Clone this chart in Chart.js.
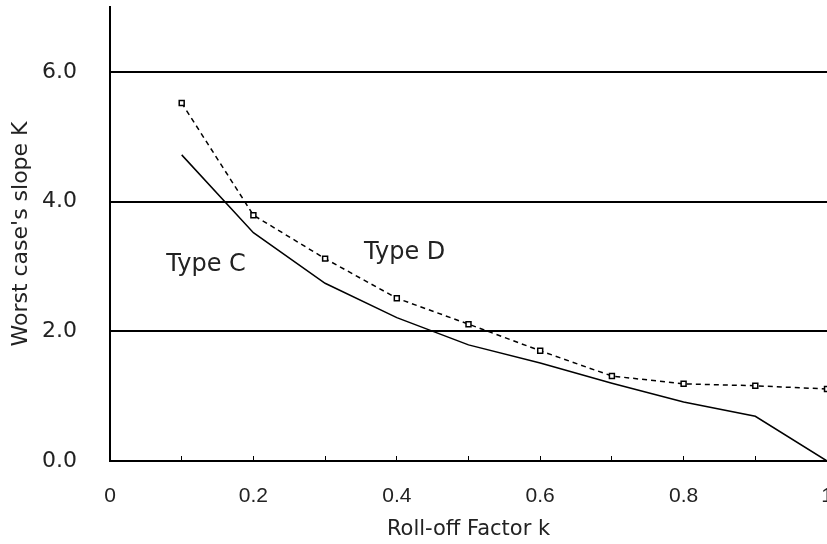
<!DOCTYPE html>
<html>
<head>
<meta charset="utf-8">
<script src="https://cdn.jsdelivr.net/npm/chart.js@4.4.0/dist/chart.umd.min.js"></script>
<style>
  html, body { margin: 0; padding: 0; background: #fff; }
  #wrap { width: 827px; height: 544px; position: relative; }
</style>
</head>
<body>
<div id="wrap"><canvas id="chart"></canvas></div>
<script>
// roll-off factor k
const kValues = [0.1, 0.2, 0.3, 0.4, 0.5, 0.6, 0.7, 0.8, 0.9, 1.0];
// worst case slope K
const typeC = [4.72, 3.52, 2.74, 2.21, 1.79, 1.51, 1.20, 0.91, 0.69, 0.0];
const typeD = [5.52, 3.79, 3.12, 2.51, 2.11, 1.70, 1.31, 1.19, 1.16, 1.11];

const seriesLabels = ['Type C', 'Type D'];
// where the in-plot labels sit, in data units
const labelX = [0.134, 0.411];
const labelY = [3.02, 3.21];

const yTicks = [0, 2, 4, 6];

const toPoints = (ys) => kValues.map((k, i) => ({ x: k, y: ys[i] }));

const seriesLabelPlugin = {
  id: 'seriesLabels',
  afterDatasetsDraw(chart) {
    const { ctx, scales } = chart;
    ctx.save();
    ctx.font = '24px "DejaVu Sans"';
    ctx.fillStyle = '#222';
    ctx.textAlign = 'center';
    ctx.textBaseline = 'middle';
    seriesLabels.forEach((txt, i) => {
      ctx.fillText(txt, scales.x.getPixelForValue(labelX[i]), scales.y.getPixelForValue(labelY[i]));
    });
    ctx.restore();
  }
};

new Chart(document.getElementById('chart').getContext('2d'), {
  type: 'line',
  data: {
    datasets: [{
      label: seriesLabels[0],
      data: toPoints(typeC),
      borderColor: '#000',
      borderWidth: 1.5,
      pointRadius: 0,
      tension: 0
    }, {
      label: seriesLabels[1],
      data: toPoints(typeD),
      borderColor: '#000',
      borderWidth: 1.5,
      borderDash: [5, 4],
      pointStyle: 'rect',
      pointRadius: 3.5,
      pointBorderWidth: 1.5,
      pointBorderColor: '#000',
      pointBackgroundColor: '#fff',
      tension: 0
    }]
  },
  options: {
    responsive: true,
    maintainAspectRatio: false,
    animation: false,
    layout: { autoPadding: false, padding: { top: 7, right: 0, left: 0, bottom: 0 } },
    plugins: { legend: { display: false }, tooltip: { enabled: false } },
    scales: {
      x: {
        type: 'linear',
        min: 0,
        max: 1,
        afterFit: (s) => { s.height = 83; s.paddingLeft = 0; s.paddingRight = 0; },
        ticks: {
          stepSize: 0.1,
          autoSkip: false,
          maxRotation: 0,
          padding: 28,
          color: '#222',
          font: { family: '"Liberation Sans"', size: 21 },
          callback: (v, i) => {
            if (i % 2 !== 0) return '';
            if (v === 0) return '0';
            if (Math.abs(v - 1) < 1e-9) return '1';
            return v.toFixed(1);
          }
        },
        grid: { drawOnChartArea: false, drawTicks: true, tickLength: -5, color: '#000', lineWidth: 1 },
        border: { color: '#000', width: 2 },
        title: {
          display: true,
          text: 'Roll-off Factor k',
          color: '#222',
          font: { family: '"DejaVu Sans"', size: 21 },
          padding: { top: 0, bottom: 2 }
        }
      },
      y: {
        min: 0,
        max: 7,
        afterFit: (s) => { s.width = 110; s.paddingTop = 0; s.paddingBottom = 0; },
        afterBuildTicks: (s) => { s.ticks = yTicks.map(v => ({ value: v })); },
        ticks: {
          padding: 33,
          color: '#222',
          font: { family: '"DejaVu Sans"', size: 22 },
          callback: (v) => v.toFixed(1)
        },
        grid: {
          drawTicks: false,
          color: (c) => c.tick && c.tick.value === 0 ? 'rgba(0,0,0,0)' : '#000',
          lineWidth: 2
        },
        border: { color: '#000', width: 2 },
        title: {
          display: true,
          text: "Worst case's slope K",
          color: '#222',
          font: { family: '"DejaVu Sans"', size: 22 },
          padding: { top: 8, bottom: 0 }
        }
      }
    }
  },
  plugins: [seriesLabelPlugin]
});
</script>
</body>
</html>
